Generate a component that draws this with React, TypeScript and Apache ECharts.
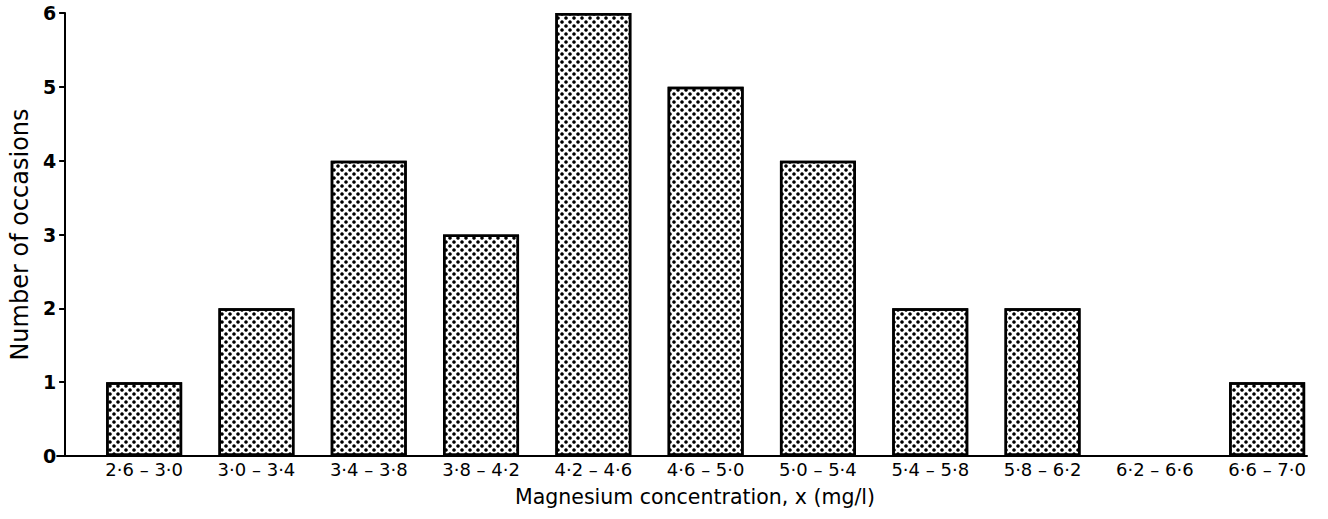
import React, { useEffect, useRef } from "react";
import * as echarts from "echarts";

const binLabels = [
  "2·6 – 3·0",
  "3·0 – 3·4",
  "3·4 – 3·8",
  "3·8 – 4·2",
  "4·2 – 4·6",
  "4·6 – 5·0",
  "5·0 – 5·4",
  "5·4 – 5·8",
  "5·8 – 6·2",
  "6·2 – 6·6",
  "6·6 – 7·0",
];
const binCenters = [2.8, 3.2, 3.6, 4.0, 4.4, 4.8, 5.2, 5.6, 6.0, 6.4, 6.8];
const occasions = [1, 2, 4, 3, 6, 5, 4, 2, 2, 0, 1];
const yTicks = [0, 1, 2, 3, 4, 5, 6];

const FONT = "'DejaVu Sans', 'Liberation Sans', Arial, sans-serif";

export default function App() {
  const ref = useRef<HTMLDivElement>(null);
  useEffect(() => {
    if (!ref.current) return;
    const chart = echarts.init(ref.current, undefined, { renderer: "svg" });
    chart.setOption({
      animation: false,
      backgroundColor: "#fff",
      grid: { left: 56, right: 21, top: 13, bottom: 63, containLabel: false },
      xAxis: {
        type: "value",
        min: 2.49,
        max: 6.942,
        name: "Magnesium concentration, x (mg/l)",
        nameLocation: "middle",
        nameGap: 30,
        nameTextStyle: {
          fontFamily: FONT,
          fontSize: 20.5,
          color: "#000",
          padding: [0, 0, 0, 26],
        },
        axisLine: { show: true, lineStyle: { color: "#000", width: 2 } },
        axisTick: { show: false },
        splitLine: { show: false },
        axisLabel: {
          customValues: binCenters,
          fontFamily: FONT,
          fontSize: 18,
          color: "#000",
          margin: 4,
          formatter: (v: number) => {
            let best = 0;
            for (let i = 0; i < binCenters.length; i++) {
              if (Math.abs(binCenters[i] - v) < Math.abs(binCenters[best] - v)) best = i;
            }
            return binLabels[best];
          },
        },
      },
      yAxis: {
        type: "value",
        min: yTicks[0],
        max: yTicks[yTicks.length - 1],
        interval: 1,
        offset: -8,
        name: "Number of occasions",
        nameLocation: "middle",
        nameGap: 32,
        nameRotate: 90,
        nameTextStyle: { fontFamily: FONT, fontSize: 24, color: "#000" },
        axisLine: { show: true, lineStyle: { color: "#000", width: 2 } },
        axisTick: { show: true, length: 6, lineStyle: { color: "#000", width: 2 } },
        splitLine: { show: false },
        axisLabel: {
          fontFamily: FONT,
          fontSize: 19,
          fontWeight: "bold",
          color: "#000",
          margin: 9,
        },
      },
      series: [
        {
          type: "bar",
          barWidth: 76,
          data: binCenters.map((c, i) =>
            occasions[i] === 0
              ? { value: [c, occasions[i]], itemStyle: { borderWidth: 0 } }
              : [c, occasions[i]]
          ),
          itemStyle: {
            color: "#fff",
            borderColor: "#000",
            borderWidth: 2.5,
            decal: {
              symbol: "circle",
              symbolSize: 0.9,
              color: "#000",
              backgroundColor: "#fff",
              dashArrayX: [
                [4, 4],
                [0, 4, 4, 0],
              ],
              dashArrayY: [4, 0],
            },
          },
        },
      ],
    });
    return () => chart.dispose();
  }, []);
  return <div ref={ref} style={{ width: 1328, height: 519, position: "absolute", left: 0, top: 0 }} />;
}
